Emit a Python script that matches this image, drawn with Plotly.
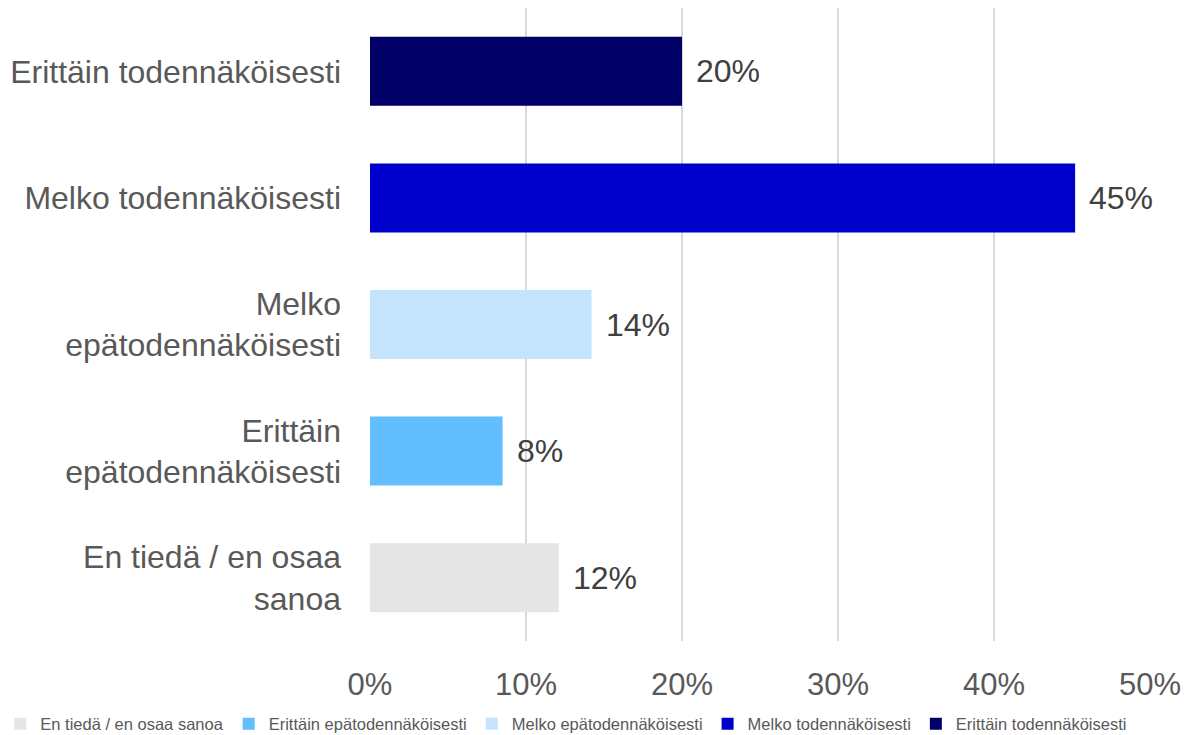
import plotly.graph_objects as go

categories = [
    "En tiedä / en osaa sanoa",
    "Erittäin epätodennäköisesti",
    "Melko epätodennäköisesti",
    "Melko todennäköisesti",
    "Erittäin todennäköisesti",
]
tick_labels = [
    "En tiedä / en osaa<br>sanoa",
    "Erittäin<br>epätodennäköisesti",
    "Melko<br>epätodennäköisesti",
    "Melko todennäköisesti",
    "Erittäin todennäköisesti",
]
values = [0.121, 0.085, 0.142, 0.452, 0.200]
value_labels = ["12%", "8%", "14%", "45%", "20%"]
colors = ["#E5E5E5", "#63BEFF", "#C4E4FD", "#0000CC", "#000066"]

x_ticks = [0, 0.1, 0.2, 0.3, 0.4, 0.5]
x_tick_labels = ["0%", "10%", "20%", "30%", "40%", "50%"]

FONT = "Liberation Sans, Arial, sans-serif"

fig = go.Figure()
for cat, val, col in zip(categories, values, colors):
    fig.add_trace(go.Bar(
        y=[cat], x=[val], name=cat, orientation="h",
        marker=dict(color=col, line=dict(width=0)),
        hoverinfo="skip",
    ))

for cat, val, lab in zip(categories, values, value_labels):
    fig.add_annotation(
        x=val, y=cat, text=lab, showarrow=False,
        xanchor="left", yanchor="middle", xshift=12,
        font=dict(family=FONT, size=32, color="#404040"),
    )

fig.update_layout(
    width=1185, height=727,
    margin=dict(l=362, r=43, t=0, b=94, autoexpand=False),
    paper_bgcolor="white", plot_bgcolor="white",
    barmode="relative", bargap=0.455,
    font=dict(family=FONT, color="#595959"),
    showlegend=True,
    legend=dict(
        orientation="h", x=-0.474, xanchor="left",
        y=-0.131, yanchor="middle",
        font=dict(family=FONT, size=16.5, color="#595959"),
        itemwidth=30, tracegroupgap=0,
        traceorder="normal",
    ),
)
fig.update_xaxes(
    range=[0, 0.5], tickvals=x_ticks, ticktext=x_tick_labels,
    showgrid=True, gridcolor="#D9D9D9", gridwidth=1.5,
    zeroline=False, showline=False,
    tickfont=dict(family=FONT, size=31, color="#595959"),
    ticklabelstandoff=22,
)
fig.update_yaxes(
    categoryorder="array", categoryarray=categories,
    tickvals=categories, ticktext=tick_labels,
    showgrid=False, zeroline=False, showline=False,
    tickfont=dict(family=FONT, size=32, color="#595959"),
    ticklabelstandoff=28,
)

fig.write_html("out.html")
